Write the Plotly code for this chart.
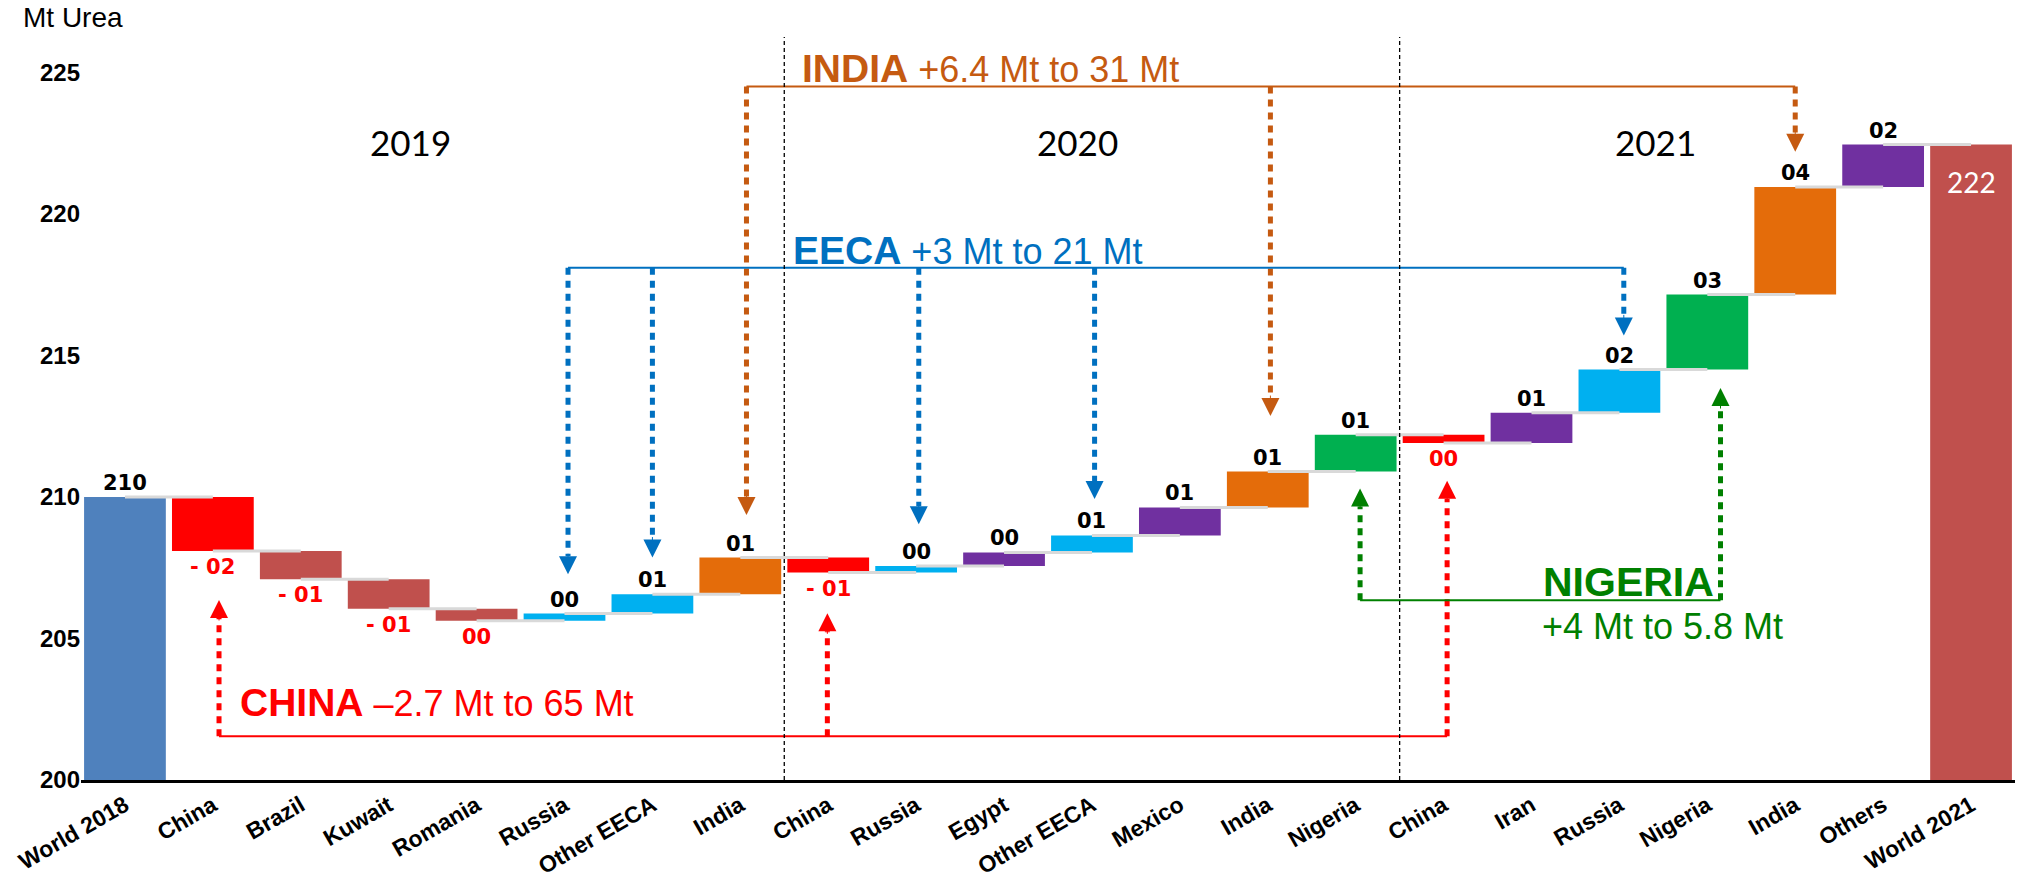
import plotly.graph_objects as go

# ---- data -------------------------------------------------------------
categories = ["World 2018", "China", "Brazil", "Kuwait", "Romania", "Russia",
              "Other EECA", "India",
              "China", "Russia", "Egypt", "Other EECA", "Mexico", "India", "Nigeria",
              "China", "Iran", "Russia", "Nigeria", "India", "Others", "World 2021"]
world_2018 = 210.0
changes = [-1.91, -1.00, -1.04, -0.42, 0.25, 0.68, 1.30,
           -0.53, 0.23, 0.48, 0.60, 0.99, 1.27, 1.30,
           -0.29, 1.07, 1.52, 2.65, 3.80, 1.50]
bar_colors = ["#4F81BD", "#FF0000", "#C0504D", "#C0504D", "#C0504D", "#00B0F0",
              "#00B0F0", "#E46C0A",
              "#FF0000", "#00B0F0", "#7030A0", "#00B0F0", "#7030A0", "#E46C0A", "#00B050",
              "#FF0000", "#7030A0", "#00B0F0", "#00B050", "#E46C0A", "#7030A0", "#C0504D"]
year_labels = ["2019", "2020", "2021"]
y_ticks = [200, 205, 210, 215, 220, 225]

# ---- waterfall geometry from the changes ------------------------------
n = len(categories)
levels = [world_2018]
for c in changes:
    levels.append(levels[-1] + c)
world_2021 = levels[-1]

bar_base, bar_height = [0.0], [world_2018]
for i, c in enumerate(changes):
    lo = min(levels[i], levels[i + 1])
    bar_base.append(lo)
    bar_height.append(abs(c))
bar_base.append(0.0)
bar_height.append(world_2021)

fig = go.Figure()

# thin connectors between consecutive bars
cx, cy = [], []
for i in range(n - 1):
    cx += [i, i + 1, None]
    cy += [levels[min(i, len(levels) - 1)]] * 2 + [None]
fig.add_trace(go.Scatter(x=cx, y=cy, mode="lines",
                         line=dict(color="#D9D9D9", width=3),
                         hoverinfo="skip", showlegend=False))

fig.add_trace(go.Bar(x=list(range(n)), y=bar_height, base=bar_base,
                     marker=dict(color=bar_colors, line=dict(width=0)),
                     width=0.93, showlegend=False, hoverinfo="skip"))

annotations = []


def fmt(v):
    r = int(round(v))
    return f"- {abs(r):02d}" if r < 0 else f"{r:02d}"


LABEL_FONT = "DejaVu Sans"
# value labels
annotations.append(dict(x=0, y=world_2018, text=f"<b>{round(world_2018)}</b>",
                        showarrow=False, yanchor="bottom",
                        font=dict(family=LABEL_FONT, size=21, color="black")))
for i, c in enumerate(changes, start=1):
    top = max(levels[i - 1], levels[i])
    bot = min(levels[i - 1], levels[i])
    if c >= 0:
        annotations.append(dict(x=i, y=top, text=f"<b>{fmt(c)}</b>", showarrow=False,
                                yanchor="bottom",
                                font=dict(family=LABEL_FONT, size=21, color="black")))
    else:
        annotations.append(dict(x=i, y=bot, text=f"<b>{fmt(c)}</b>", showarrow=False,
                                yanchor="top", yshift=-2,
                                font=dict(family=LABEL_FONT, size=21, color="#FF0000")))
annotations.append(dict(x=n - 1, y=world_2021, text=f"{int(world_2021)}",
                        showarrow=False, yanchor="top", yshift=-18,
                        font=dict(family="Lato", size=28, color="white")))

# year headings
for label, xpos in zip(year_labels, [3.25, 10.84, 17.41]):
    annotations.append(dict(x=xpos, y=222.55, text=label, showarrow=False,
                            font=dict(family="Lato", size=35, color="black")))

annotations.append(dict(xref="paper", yref="paper", x=-0.031, y=1.016,
                        xanchor="left", yanchor="middle", text="Mt Urea",
                        showarrow=False,
                        font=dict(family="Liberation Sans", size=28, color="black")))

# ---- callouts: horizontal rule, dotted leaders and arrowheads ----------
HEAD = 18 / 28.3   # arrowhead length in data units


def callout(color, line_y, x_from, x_to, arrows):
    fig.add_trace(go.Scatter(x=[x_from, x_to], y=[line_y, line_y], mode="lines",
                             line=dict(color=color, width=2),
                             hoverinfo="skip", showlegend=False))
    dx, dy = [], []
    for xa, tip in arrows:
        down = tip < line_y
        base = tip + HEAD if down else tip - HEAD
        dx += [xa, xa, None]
        dy += [line_y, base, None]
        annotations.append(dict(x=xa, y=tip, ax=0, ay=-22 if down else 22,
                                text="", showarrow=True, arrowhead=2,
                                arrowsize=3.6, arrowwidth=1, arrowcolor=color))
    fig.add_trace(go.Scatter(x=dx, y=dy, mode="lines",
                             line=dict(color=color, width=5, dash="7px,6px"),
                             hoverinfo="skip", showlegend=False))


INDIA_C, EECA_C, CHINA_C, NIG_C = "#C55A11", "#0070C0", "#FF0000", "#008000"

callout(INDIA_C, 224.5, 7.07, 19.0,
        [(7.07, 209.36), (13.03, 212.86), (19.0, 222.2)])
callout(EECA_C, 218.1, 5.04, 17.05,
        [(5.04, 207.27), (6.0, 207.86), (9.03, 209.04), (11.03, 209.93), (17.05, 215.71)])
callout(CHINA_C, 201.55, 1.07, 15.04,
        [(1.07, 206.36), (7.99, 205.89), (15.04, 210.57)])
callout(NIG_C, 206.35, 14.05, 18.15,
        [(14.05, 210.3), (18.15, 213.85)])

TXT = "Liberation Sans"


def headline(x, y, bold, rest, color, anchor="left", bsize=39):
    annotations.append(dict(
        x=x, y=y, xanchor=anchor, yanchor="middle", showarrow=False,
        text=f"<span style='font-size:{bsize}px'><b>{bold}</b></span>{rest}",
        font=dict(family=TXT, size=36, color=color)))


headline(7.68, 225.15, "INDIA", " +6.4 Mt to 31 Mt", INDIA_C)
headline(7.58, 218.7, "EECA", " +3 Mt to 21 Mt", EECA_C)
headline(1.29, 202.75, "CHINA", " \u20132.7 Mt to 65 Mt", CHINA_C)
headline(18.1, 207.0, "NIGERIA", "", NIG_C, anchor="right", bsize=41)
annotations.append(dict(x=16.1, y=205.42, xanchor="left", yanchor="middle",
                        showarrow=False, text="+4 Mt to 5.8 Mt",
                        font=dict(family=TXT, size=36, color=NIG_C)))

# year separators
shapes = []
for xs in [7.5, 14.5]:
    shapes.append(dict(type="line", xref="x", yref="y", x0=xs, x1=xs,
                       y0=200, y1=226.25,
                       line=dict(color="black", width=1.3, dash="4px,3px")))

fig.update_layout(
    width=2018, height=885,
    margin=dict(l=81, r=3, t=30, b=105),
    paper_bgcolor="white", plot_bgcolor="white",
    bargap=0.07,
    annotations=annotations, shapes=shapes,
    xaxis=dict(range=[-0.5, n - 0.5], tickmode="array", automargin=False,
               tickvals=list(range(n)), ticktext=[f"<b>{c}</b>" for c in categories],
               tickangle=-30, showgrid=False, zeroline=False,
               showline=True, linecolor="black", linewidth=3, ticks="",
               tickfont=dict(family=TXT, size=23, color="black")),
    yaxis=dict(range=[200, 226.5], tickmode="array", tickvals=y_ticks, automargin=False,
               ticktext=[f"<b>{t}</b>" for t in y_ticks],
               showgrid=False, zeroline=False, showline=False, ticks="",
               tickfont=dict(family=TXT, size=24, color="black")),
)

fig.write_html("out.html")
